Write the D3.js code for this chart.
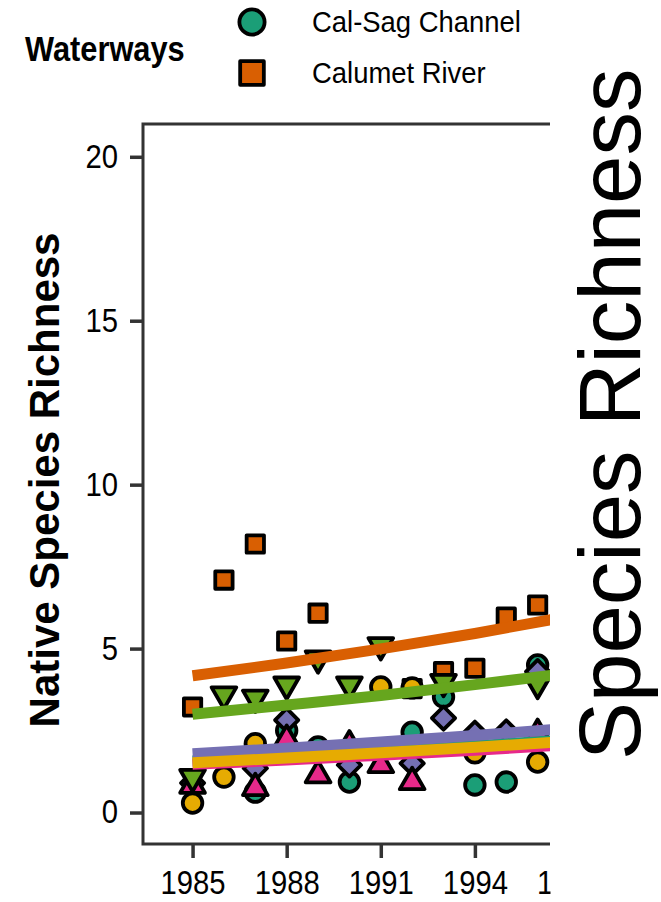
<!DOCTYPE html>
<html lang="en">
  <head>
    <meta charset="utf-8">
    <title>Native Species Richness</title>
    <script type="text/javascript" src="https://cdn.jsdelivr.net/npm/d3@7"></script>
    <style type="text/css">
      body { margin: 0; background: #fff; }
      svg { display: block; font-family: "Liberation Sans", Arial, sans-serif; }
    </style>
  </head>
  <body>
    <script type="text/javascript">

      // Survey years (one entry per year, null = no point drawn)
      var years = [1985, 1986, 1987, 1988, 1989, 1990, 1991, 1992, 1993, 1994, 1995, 1996];

      // Native species richness per waterway
      var calSag   = [null, null, 0.62, 2.5, 2.0, 0.93, null, 2.45, 3.52, 0.84, 0.93, 4.5];
      var calumet  = [3.22, 7.09, 8.19, 5.23, 6.08, null, null, 3.78, 4.3, 4.4, 5.96, 6.33];
      var purpleWw = [0.9, null, 1.35, 2.82, null, 1.45, null, 1.5, 2.88, 2.42, 2.46, 4.3];
      var pinkWw   = [0.82, null, 0.75, 2.22, 1.14, 2.05, 1.45, 0.93, null, null, null, 2.4];
      var greenWw  = [1.08, 3.6, 3.5, 3.9, 4.7, 3.9, 5.1, null, 3.98, null, null, 3.92];
      var yellowWw = [0.29, 1.08, 2.1, null, null, null, 3.83, 3.8, null, 1.82, null, 1.54];

      // Fitted trend values
      var fitYears  = [1985, 1988, 1991, 1994, 1997];
      var fitCalSag = [1.57, 1.71, 1.87, 2.04, 2.22];
      var fitCalumet = [4.17, 4.56, 4.99, 5.46, 5.98];
      var fitPurple = [1.79, 1.96, 2.15, 2.35, 2.57];
      var fitPink   = [1.47, 1.60, 1.75, 1.90, 2.07];
      var fitGreen  = [3.0, 3.28, 3.57, 3.90, 4.25];
      var fitYellow = [1.52, 1.66, 1.82, 1.99, 2.17];

      var xTicks = [1985, 1988, 1991, 1994, 1997];
      var yTicks = [0, 5, 10, 15, 20];

      var legendNames = ["Cal-Sag Channel", "Calumet River"];

      var w = 661;
      var h = 902;

      // ggplot-like diamond (square turned 45 degrees)
      var symDiamond = {
        draw: function(ctx, size) {
          var r = Math.sqrt(size / 2);
          ctx.moveTo(0, -r);
          ctx.lineTo(r, 0);
          ctx.lineTo(0, r);
          ctx.lineTo(-r, 0);
          ctx.closePath();
        }
      };

      var series = [
        { vals: calSag,   fit: fitCalSag,  color: "#1B9E77", type: d3.symbolCircle,   size: 300, rot: 0 },
        { vals: calumet,  fit: fitCalumet, color: "#D95F02", type: d3.symbolSquare,   size: 300, rot: 0 },
        { vals: purpleWw, fit: fitPurple,  color: "#7570B3", type: symDiamond,        size: 270, rot: 0 },
        { vals: pinkWw,   fit: fitPink,    color: "#E7298A", type: d3.symbolTriangle, size: 265, rot: 0 },
        { vals: greenWw,  fit: fitGreen,   color: "#66A61E", type: d3.symbolTriangle, size: 265, rot: 180 },
        { vals: yellowWw, fit: fitYellow,  color: "#E6AB02", type: d3.symbolCircle,   size: 300, rot: 0 }
      ];

      var panelLeft = 143, panelTop = 124, panelBottom = 844;
      var cutX = 550;     // the reference picture is cut off here
      var textSx = 0.9;   // the reference type is a little narrower than Arial

      var xScale = d3.scaleLinear()
        .domain([1983.42, 1998.5])
        .range([panelLeft, panelLeft + (1998.5 - 1983.42) * 31.37]);

      var yScale = d3.scaleLinear()
        .domain([-0.96, 21.0])
        .range([panelBottom, panelTop]);

      var svg = d3.select("body")
        .append("svg")
        .attr("width", w)
        .attr("height", h);

      svg.append("clipPath")
        .attr("id", "cut")
        .append("rect")
        .attr("x", 0).attr("y", 0)
        .attr("width", cutX).attr("height", h);

      var plot = svg.append("g").attr("clip-path", "url(#cut)");

      // Points
      series.forEach(function(s) {
        var sym = d3.symbol().type(s.type).size(s.size);
        plot.append("g")
          .selectAll("path")
          .data(years.map(function(yr, i) { return { year: yr, v: s.vals[i] }; })
                     .filter(function(d) { return d.v != null; }))
          .enter()
          .append("path")
          .attr("d", sym)
          .attr("transform", function(d) {
            return "translate(" + xScale(d.year) + "," + yScale(d.v) + ") rotate(" + s.rot + ")";
          })
          .attr("fill", s.color)
          .attr("stroke", "#000")
          .attr("stroke-width", 3.8)
          .attr("stroke-linejoin", "round");
      });

      // Trend lines
      var line = d3.line()
        .x(function(d) { return xScale(d.year); })
        .y(function(d) { return yScale(d.v); })
        .curve(d3.curveMonotoneX);

      series.forEach(function(s) {
        plot.append("path")
          .datum(fitYears.map(function(yr, i) { return { year: yr, v: s.fit[i] }; }))
          .attr("d", line)
          .attr("fill", "none")
          .attr("stroke", s.color)
          .attr("stroke-width", 11);
      });

      // Panel border
      plot.append("rect")
        .attr("x", panelLeft)
        .attr("y", panelTop)
        .attr("width", 700)
        .attr("height", panelBottom - panelTop)
        .attr("fill", "none")
        .attr("stroke", "#333")
        .attr("stroke-width", 3);

      // Axes
      var xAxis = d3.axisBottom(xScale)
        .tickValues(xTicks)
        .tickFormat(d3.format("d"))
        .tickSize(14)
        .tickPadding(13);

      var yAxis = d3.axisLeft(yScale)
        .tickValues(yTicks)
        .tickSize(13)
        .tickPadding(12);

      var gx = svg.append("g")
        .attr("transform", "translate(0," + panelBottom + ")")
        .call(xAxis);

      var gy = svg.append("g")
        .attr("transform", "translate(" + panelLeft + ",0)")
        .call(yAxis);

      [gx, gy].forEach(function(g) {
        g.select(".domain").remove();
        g.selectAll(".tick line").attr("stroke", "#333").attr("stroke-width", 3.5);
        g.selectAll(".tick text")
          .attr("fill", "#000")
          .attr("font-size", "32.5px")
          .attr("font-family", "Liberation Sans, Arial, sans-serif")
          .attr("transform", "scale(" + textSx + ",1)");
      });
      gy.selectAll(".tick text").attr("x", -25 / textSx);

      // only the ticks that run past the cut are clipped
      gx.selectAll(".tick")
        .filter(function(d) { return xScale(d) + 40 > cutX; })
        .each(function(d) {
          var id = "cut-" + d;
          svg.append("clipPath")
            .attr("id", id)
            .append("rect")
            .attr("x", -100).attr("y", -20)
            .attr("width", cutX - xScale(d) + 100).attr("height", 100);
          d3.select(this).attr("clip-path", "url(#" + id + ")");
        });

      // Y axis title
      svg.append("text")
        .attr("transform", "translate(59,480) rotate(-90)")
        .attr("text-anchor", "middle")
        .attr("font-weight", "bold")
        .attr("font-size", "42px")
        .text("Native Species Richness");

      // Legend
      svg.append("text")
        .attr("transform", "translate(25,61) scale(0.88,1)")
        .attr("font-weight", "bold")
        .attr("font-size", "35px")
        .text("Waterways");

      var legendKeys = [
        { type: d3.symbolCircle, size: 500, color: "#1B9E77", y: 22 },
        { type: d3.symbolSquare, size: 560, color: "#D95F02", y: 73 }
      ];

      legendKeys.forEach(function(k, i) {
        svg.append("path")
          .attr("d", d3.symbol().type(k.type).size(k.size))
          .attr("transform", "translate(252," + k.y + ")")
          .attr("fill", k.color)
          .attr("stroke", "#000")
          .attr("stroke-width", 3.8)
          .attr("stroke-linejoin", "round");

        svg.append("text")
          .attr("transform", "translate(312," + k.y + ") scale(0.93,1)")
          .attr("dy", "0.35em")
          .attr("font-size", "29.5px")
          .text(legendNames[i]);
      });

      // Big side label
      svg.append("text")
        .attr("transform", "translate(640,760) rotate(-90)")
        .attr("font-size", "87px")
        .attr("fill", "#000")
        .text("Species Richness");

    </script>
  </body>
</html>
